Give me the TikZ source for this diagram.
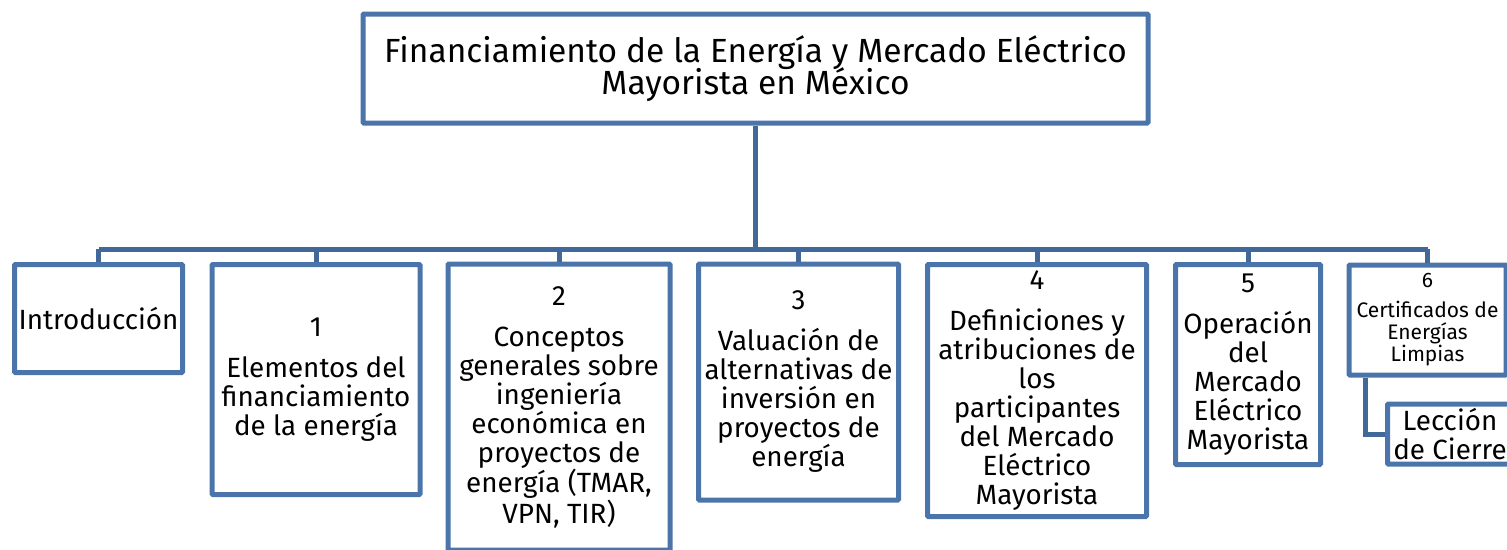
\documentclass[tikz,border=0pt]{standalone}
\usepackage{fontspec}
\setmainfont{Fira Sans}
\definecolor{boxblue}{RGB}{74,116,170}
\definecolor{linkblue}{RGB}{66,103,153}
\begin{document}
\begin{tikzpicture}[x=1pt,y=-1pt,
  box/.style={draw=boxblue,line width=5pt,rounded corners=1pt,inner sep=0pt,align=center,
    font=\fontsize{27.8}{29}\selectfont,text=black},
  conn/.style={draw=linkblue,line width=5pt}]
\useasboundingbox (0,0) rectangle (1507,549);
\node[box,minimum width=785pt,minimum height=109pt,font=\fontsize{33.5}{33}\selectfont] (top) at (755.5,68.5)
  {Financiamiento de la Energía y Mercado Eléctrico\\[-3pt]Mayorista en México};
\node[box,minimum width=168pt,minimum height=108pt] (intro) at (98.5,318.5) {Introducción};
\node[box,minimum width=208pt,minimum height=230pt] (b1) at (316,379.5)
  {1\\[12pt]Elementos del\\financiamiento\\de la energía};
\node[box,minimum width=222pt,minimum height=286pt] (b2) at (559,407)
  {2\\[12pt]Conceptos\\generales sobre\\ingeniería\\económica en\\proyectos de\\energía (TMAR,\\VPN, TIR)};
\node[box,minimum width=200pt,minimum height=236pt] (b3) at (798.5,382)
  {3\\[12pt]Valuación de\\alternativas de\\inversión en\\proyectos de\\energía};
\node[box,minimum width=219pt,minimum height=252pt] (b4) at (1037,390.5)
  {4\\[12pt]Definiciones y\\atribuciones de\\los\\participantes\\del Mercado\\Eléctrico\\Mayorista};
\node[box,minimum width=145pt,minimum height=200pt] (b5) at (1248,364.5)
  {5\\[12pt]Operación\\del\\Mercado\\Eléctrico\\Mayorista};
\node[box,minimum width=157pt,minimum height=110pt,font=\fontsize{21}{22}\selectfont] (b6) at (1427.5,320)
  {6\\[8pt]Certificados de\\Energías\\Limpias};
\node[box,minimum width=125pt,minimum height=60pt] (lec) at (1450,434)
  {Lección\\de Cierre};
\coordinate (busL) at (98.5,249);
\coordinate (busR) at (1427.5,249);
\draw[conn] (busL) -- (busR);
\draw[conn] (top.south) -- (top.south |- busL);
\foreach \b in {intro,b1,b2,b3,b4,b5,b6}
  \draw[conn] (\b.north) -- (\b.north |- busL);
\draw[conn] ([xshift=-62.5pt]b6.south) |- (lec.west);
\end{tikzpicture}
\end{document}
